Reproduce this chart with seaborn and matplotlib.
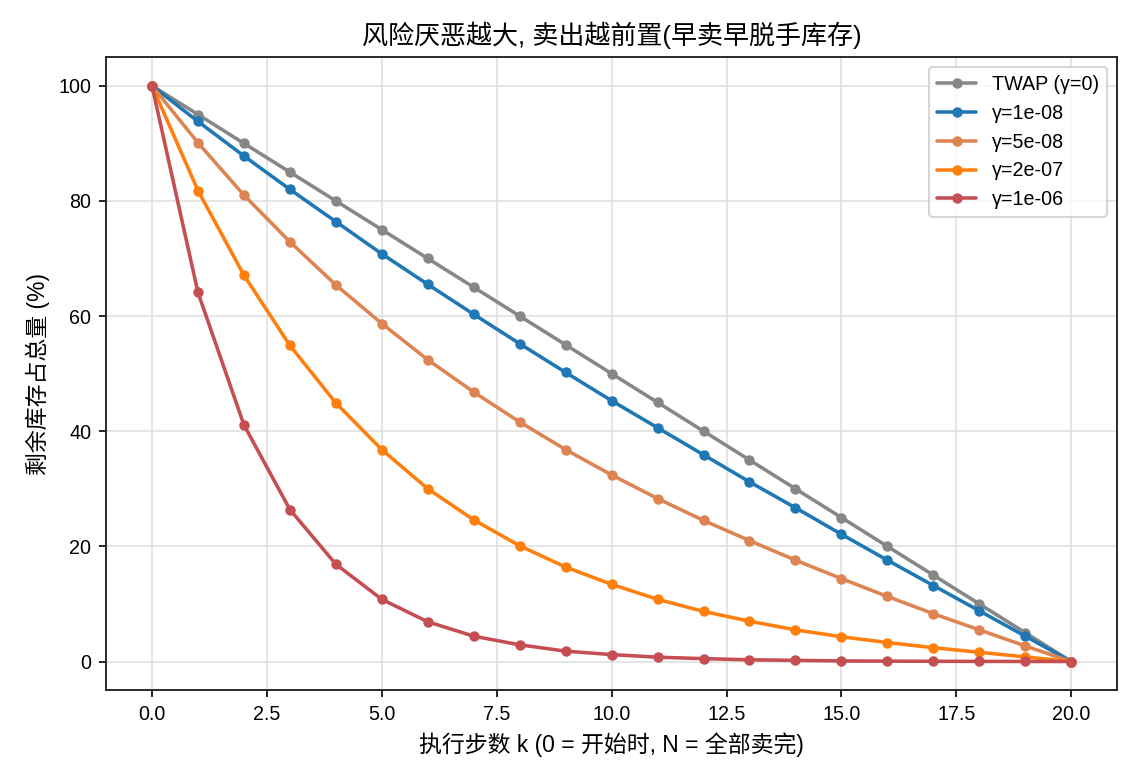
import pandas as pd
import matplotlib
matplotlib.use("Agg")
import matplotlib.pyplot as plt
import seaborn as sns

# ==============================================================================
# 1. DATA
# ==============================================================================
steps = list(range(21))

twap = [100, 95, 90, 85, 80, 75, 70, 65, 60, 55, 50, 45, 40, 35, 30, 25, 20, 15, 10, 5, 0]
g_1e8 = [100, 93.8, 87.8, 82.0, 76.4, 70.8, 65.5, 60.3, 55.2, 50.2, 45.3,
         40.6, 35.9, 31.2, 26.7, 22.1, 17.6, 13.2, 8.8, 4.4, 0]
g_5e8 = [100, 90.1, 81.0, 72.9, 65.4, 58.7, 52.4, 46.8, 41.6, 36.8, 32.4,
         28.3, 24.5, 21.0, 17.6, 14.4, 11.3, 8.3, 5.5, 2.7, 0]
g_2e7 = [100, 81.8, 67.1, 54.9, 44.9, 36.8, 30.0, 24.6, 20.1, 16.4, 13.4,
         10.8, 8.7, 7.0, 5.5, 4.3, 3.3, 2.4, 1.6, 0.8, 0]
g_1e6 = [100, 64.1, 41.1, 26.4, 16.9, 10.8, 6.9, 4.4, 2.9, 1.8, 1.2,
         0.75, 0.5, 0.3, 0.2, 0.1, 0.06, 0.04, 0.02, 0.01, 0]

series_names = ['TWAP (γ=0)', 'γ=1e-08', 'γ=5e-08', 'γ=2e-07', 'γ=1e-06']
series_values = [twap, g_1e8, g_5e8, g_2e7, g_1e6]
series_colors = ['#878787', '#1f77b4', '#dd8452', '#ff7f0e', '#c44e52']

rows = []
for name, vals in zip(series_names, series_values):
    for k, v in zip(steps, vals):
        rows.append({'k': k, 'remaining': v, 'strategy': name})
df = pd.DataFrame(rows)

# ==============================================================================
# 2. PLOT
# ==============================================================================
sns.set_style("ticks")
plt.rcParams['font.family'] = ['Liberation Sans', 'Noto Sans CJK SC', 'DejaVu Sans']
plt.rcParams['axes.unicode_minus'] = False
for key in ['text.color', 'axes.labelcolor', 'xtick.color', 'ytick.color']:
    plt.rcParams[key] = 'black'

fig, ax = plt.subplots(figsize=(7.6, 5.2), dpi=150)

sns.lineplot(
    data=df, x='k', y='remaining', hue='strategy',
    hue_order=series_names, palette=dict(zip(series_names, series_colors)),
    marker='o', markersize=5, markeredgewidth=0, linewidth=1.7,
    ax=ax
)

ax.set_title('风险厌恶越大, 卖出越前置(早卖早脱手库存)', fontsize=12.5)
ax.set_xlabel('执行步数 k (0 = 开始时, N = 全部卖完)', fontsize=11)
ax.set_ylabel('剩余库存占总量 (%)', fontsize=11)
ax.grid(True, color='#e0e0e0', linewidth=0.8)
ax.set_axisbelow(True)
for s in ax.spines.values():
    s.set_color('#222222')
    s.set_linewidth(0.9)
ax.tick_params(labelsize=9.5)
ax.legend(title=None, loc='upper right', fontsize=9.5)

plt.subplots_adjust(left=0.093, right=0.98, top=0.927, bottom=0.115)
plt.savefig('out.png', dpi=150)
